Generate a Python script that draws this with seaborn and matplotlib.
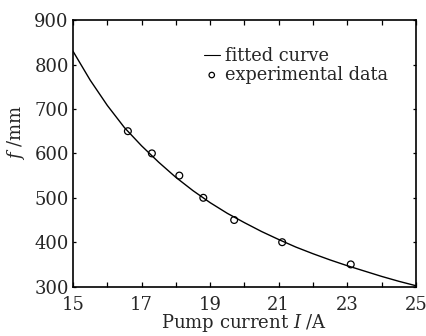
import numpy as np
import pandas as pd
import matplotlib
matplotlib.use('Agg')
import matplotlib.pyplot as plt
import seaborn as sns

# Fitted curve
curve_current = [15, 15.5, 16, 16.5, 17, 17.5, 18, 18.5, 19, 19.5, 20,
                 20.5, 21, 21.5, 22, 22.5, 23, 23.5, 24, 24.5, 25]
curve_focal = [830, 765, 708, 658, 617, 580, 546, 516, 489, 465, 444,
               424, 406, 389, 374, 360, 347, 335, 323, 312, 302]

# Experimental points
exp_current = [16.6, 17.3, 18.1, 18.8, 19.7, 21.1, 23.1]
exp_focal = [650, 600, 550, 500, 450, 400, 350]

x_ticks = [15, 17, 19, 21, 23, 25]
y_ticks = [300, 400, 500, 600, 700, 800, 900]

curve_df = pd.DataFrame({'I': curve_current, 'f': curve_focal})
exp_df = pd.DataFrame({'I': exp_current, 'f': exp_focal})

sns.set_style('ticks')
plt.rcParams['font.family'] = ['DejaVu Serif']
plt.rcParams['mathtext.fontset'] = 'dejavuserif'

fig = plt.figure(figsize=(4.27, 3.36), dpi=100)
ax = fig.add_axes([0.171, 0.147, 0.803, 0.793])

sns.lineplot(data=curve_df, x='I', y='f', color='black', linewidth=1.0,
             label='fitted curve', ax=ax)
sns.scatterplot(data=exp_df, x='I', y='f', marker='o', s=24,
                facecolor='none', edgecolor='black', linewidth=0.9,
                label='experimental data', ax=ax, zorder=3)

ax.set_xlim(15, 25)
ax.set_ylim(300, 900)
ax.set_xticks(x_ticks)
ax.set_xticks(np.arange(16, 25, 2), minor=True)
ax.set_yticks(y_ticks)
ax.tick_params(axis='both', which='both', direction='in', top=True, right=True,
               labelsize=13, width=0.9, color='black', length=3.5, pad=3)
ax.tick_params(axis='x', which='both', pad=6.5)
ax.tick_params(axis='y', which='both', left=True, length=2.5)
for sp in ax.spines.values():
    sp.set_linewidth(1.2)
    sp.set_color('black')

ax.set_xlabel('Pump current $I$ /A', fontsize=13, labelpad=-1)
ax.set_ylabel('$f$ /mm', fontsize=13)
ax.yaxis.set_label_coords(-0.135, 0.58)

leg = ax.legend(loc='upper right', bbox_to_anchor=(0.95, 0.94), frameon=False,
                fontsize=12.8, handlelength=0.9, handletextpad=0.3,
                labelspacing=0.05, borderaxespad=0.2, markerscale=0.8)
for h in leg.get_lines():
    h.set_linewidth(0.8)

fig.savefig('out.png', dpi=100)
